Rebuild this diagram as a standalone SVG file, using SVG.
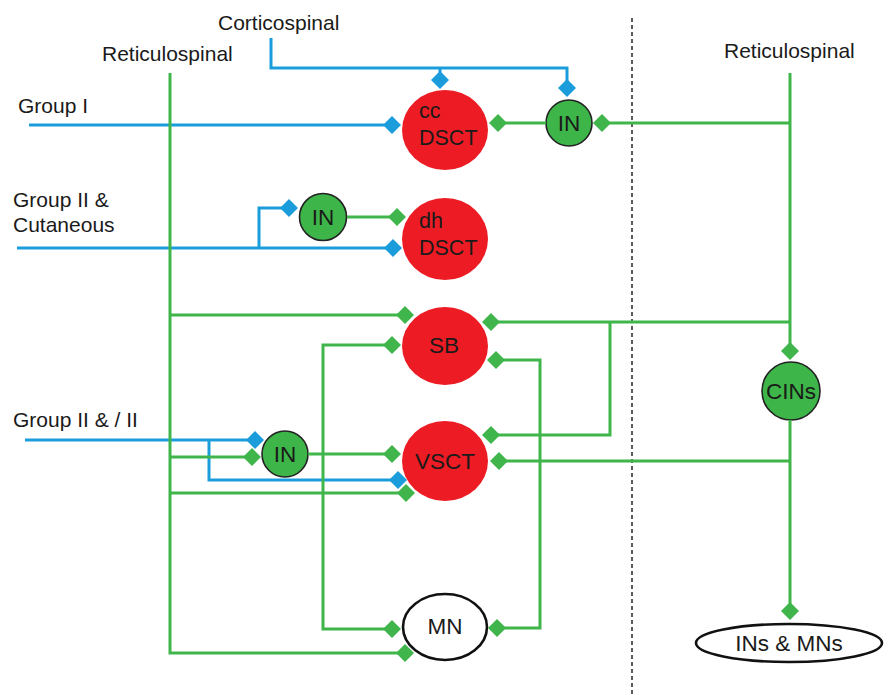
<svg xmlns="http://www.w3.org/2000/svg" width="889" height="696" viewBox="0 0 889 696">
  <style>
    text { font-family: "Liberation Sans", Arial, sans-serif; fill: #1a1a1a; }
    .lbl { font-size: 21px; }
    .nt { font-size: 21.5px; }
    .ntc { font-size: 22.5px; text-anchor: middle; }
    .red { fill: #ed1c24; }
    .gin { fill: #3db549; stroke: #222; stroke-width: 1.6; }
    .wn { fill: #fff; stroke: #111; stroke-width: 2.6; }
    .blue { fill: none; stroke: #1b9ddb; stroke-width: 3; }
    .green { fill: none; stroke: #3fb54b; stroke-width: 3; }
    .mid { stroke: #333; stroke-width: 1.6; stroke-dasharray: 4 3; fill: none; }
  </style>
  <defs>
    <marker id="db" markerUnits="userSpaceOnUse" markerWidth="20" markerHeight="20" viewBox="-10 -10 20 20" refX="0" refY="0" orient="0">
      <path d="M0,-9 L9,0 L0,9 L-9,0 Z" fill="#1b9ddb"/>
    </marker>
    <marker id="dg" markerUnits="userSpaceOnUse" markerWidth="20" markerHeight="20" viewBox="-10 -10 20 20" refX="0" refY="0" orient="0">
      <path d="M0,-9 L9,0 L0,9 L-9,0 Z" fill="#3fb54b"/>
    </marker>
  </defs>
  <rect width="889" height="696" fill="#fff"/>

  <!-- midline -->
  <line class="mid" x1="632" y1="18" x2="632" y2="694"/>

  <!-- tract and afferent labels -->
  <g id="labels">
    <text class="lbl" x="218" y="30">Corticospinal</text>
    <text class="lbl" x="102" y="61">Reticulospinal</text>
    <text class="lbl" x="724" y="58">Reticulospinal</text>
    <text class="lbl" x="18" y="113">Group I</text>
    <text class="lbl" x="13" y="207">Group II &amp;</text>
    <text class="lbl" x="13" y="232">Cutaneous</text>
    <text class="lbl" x="13" y="427">Group II &amp; / II</text>
  </g>

  <g id="nodes">
    <g id="ccDSCT">
      <ellipse class="red" cx="445" cy="130" rx="43" ry="40"/>
      <text class="nt" x="419" y="118">cc</text>
      <text class="nt" x="419" y="145">DSCT</text>
    </g>
    <g id="dhDSCT">
      <ellipse class="red" cx="445" cy="239" rx="43" ry="41"/>
      <text class="nt" x="419" y="228">dh</text>
      <text class="nt" x="419" y="255">DSCT</text>
    </g>
    <g id="SB">
      <ellipse class="red" cx="445" cy="346" rx="43" ry="39"/>
      <text class="ntc" x="444" y="353">SB</text>
    </g>
    <g id="VSCT">
      <ellipse class="red" cx="445" cy="461" rx="43" ry="40"/>
      <text class="ntc" x="445" y="469">VSCT</text>
    </g>
    <g id="MN">
      <ellipse class="wn" cx="445" cy="627" rx="42" ry="33"/>
      <text class="ntc" x="445" y="634">MN</text>
    </g>
    <g id="IN-top">
      <circle class="gin" cx="569" cy="123" r="23"/>
      <text class="ntc" x="569" y="131">IN</text>
    </g>
    <g id="IN-dh">
      <circle class="gin" cx="323" cy="217" r="23.5"/>
      <text class="ntc" x="323" y="225">IN</text>
    </g>
    <g id="IN-vsct">
      <circle class="gin" cx="285" cy="454" r="23"/>
      <text class="ntc" x="285" y="462">IN</text>
    </g>
    <g id="CINs">
      <circle class="gin" cx="791" cy="391" r="29"/>
      <text class="ntc" x="791" y="399">CINs</text>
    </g>
    <g id="INsMNs">
      <ellipse class="wn" cx="789" cy="643" rx="93" ry="19"/>
      <text class="ntc" x="789" y="651">INs &amp; MNs</text>
    </g>
  </g>

  <g id="connectors">
    <!-- descending and afferent inputs (blue) -->
    <path class="blue" d="M271,38 V68 H567 V88" marker-end="url(#db)"/>
    <path class="blue" d="M440,68 V80" marker-end="url(#db)"/>
    <path class="blue" d="M29,125 H392" marker-end="url(#db)"/>
    <path class="blue" d="M17,248 H393" marker-end="url(#db)"/>
    <path class="blue" d="M259,248 V208 H289" marker-end="url(#db)"/>
    <path class="blue" d="M25,440 H255" marker-end="url(#db)"/>
    <path class="blue" d="M209,440 V480 H398" marker-end="url(#db)"/>

    <!-- ipsilateral reticulospinal and spinal circuits (green) -->
    <path class="green" d="M170,73 V653 H405" marker-end="url(#dg)"/>
    <path class="green" d="M170,315 H405" marker-end="url(#dg)"/>
    <path class="green" d="M170,457 H252" marker-end="url(#dg)"/>
    <path class="green" d="M170,493 H406" marker-end="url(#dg)"/>
    <path class="green" d="M308,454 H392" marker-end="url(#dg)"/>
    <path class="green" d="M347,217 H397" marker-end="url(#dg)"/>
    <path class="green" d="M546,123 H498" marker-end="url(#dg)"/>
    <path class="green" d="M392,345 H323 V629 H392" marker-start="url(#dg)" marker-end="url(#dg)"/>
    <path class="green" d="M496,360 H540 V628 H497" marker-start="url(#dg)" marker-end="url(#dg)"/>

    <!-- contralateral reticulospinal and commissural pathways -->
    <path class="green" d="M790,73 V351" marker-end="url(#dg)"/>
    <path class="green" d="M790,420 V611" marker-end="url(#dg)"/>
    <path class="green" d="M602,123 H790" marker-start="url(#dg)"/>
    <path class="green" d="M491,322 H790" marker-start="url(#dg)"/>
    <path class="green" d="M610,322 V435 H491" marker-end="url(#dg)"/>
    <path class="green" d="M499,461 H790" marker-start="url(#dg)"/>
  </g>
</svg>
